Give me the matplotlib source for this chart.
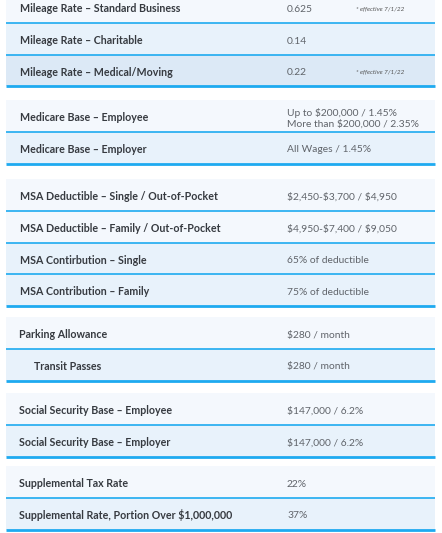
import matplotlib.pyplot as plt
from matplotlib.patches import Rectangle

plt.rcParams['font.family'] = ['Lato', 'DejaVu Sans']

# table content, one list per group
labels = [
    ["Mileage Rate – Standard Business", "Mileage Rate – Charitable", "Mileage Rate – Medical/Moving"],
    ["Medicare Base – Employee", "Medicare Base – Employer"],
    ["MSA Deductible – Single / Out-of-Pocket", "MSA Deductible – Family / Out-of-Pocket",
     "MSA Contirbution – Single", "MSA Contribution – Family"],
    ["Parking Allowance", "Transit Passes"],
    ["Social Security Base – Employee", "Social Security Base – Employer"],
    ["Supplemental Tax Rate", "Supplemental Rate, Portion Over $1,000,000"],
]
values = [
    ["0.625", "0.14", "0.22"],
    ["Up to $200,000 / 1.45%\nMore than $200,000 / 2.35%", "All Wages / 1.45%"],
    ["$2,450-$3,700 / $4,950", "$4,950-$7,400 / $9,050", "65% of deductible", "75% of deductible"],
    ["$280 / month", "$280 / month"],
    ["$147,000 / 6.2%", "$147,000 / 6.2%"],
    ["22%", "37%"],
]
notes = [
    ["* effective 7/1/22", "", "* effective 7/1/22"],
    ["", ""],
    ["", "", "", ""],
    ["", ""],
    ["", ""],
    ["", ""],
]
indented = ["Transit Passes"]

# layout (pixels)
W, H = 442, 533
group_tops = [-9, 100, 179, 317, 393, 466]
row_h = 31.8
left, right = 6, 435
label_x = [20, 20, 20, 19, 19, 19]
value_x = 287
note_x = 356

light = "#f4f8fd"
mid = "#e8f2fb"
dark = "#dce9f6"
line_c = "#1eaaf0"

fig = plt.figure(figsize=(W / 100, H / 100), dpi=100)
ax = fig.add_axes([0, 0, 1, 1])
ax.set_xlim(0, W)
ax.set_ylim(H, 0)
ax.axis("off")

for g, top in enumerate(group_tops):
    n = len(labels[g])
    for i in range(n):
        y0 = top + i * row_h
        if g == 0:
            shade = [light, mid, dark][i]
        elif g == 2:
            shade = light if i < 2 else mid
        else:
            shade = light if i == 0 else mid
        ax.add_patch(Rectangle((left, y0), right - left, row_h, facecolor=shade, edgecolor="none"))
        last = i == n - 1
        ax.plot([left, right], [y0 + row_h, y0 + row_h], color=line_c,
                lw=2.0 if last else 1.2, solid_capstyle="butt")
        yc = y0 + row_h / 2
        lx = label_x[g] + (15 if labels[g][i] in indented else 0)
        ax.text(lx, yc + 1.5, labels[g][i], fontsize=7.7, fontweight="bold",
                color="#363a40", va="center", ha="left")
        ax.text(value_x, yc + 2.3, values[g][i], fontsize=7.4, color="#60646a",
                va="center", ha="left", linespacing=1.1)
        if notes[g][i]:
            ax.text(note_x, yc + 1.5, notes[g][i], fontsize=4.6, style="italic",
                    color="#555555", va="center", ha="left")

fig.savefig("out.png", dpi=100)
